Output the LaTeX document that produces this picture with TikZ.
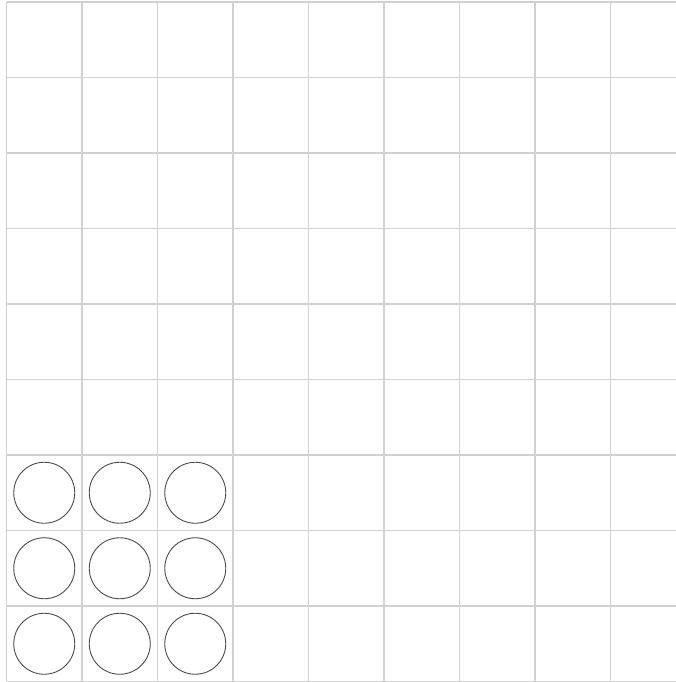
\documentclass[tikz,border=0pt]{standalone}
\begin{document}
\begin{tikzpicture}[x=1pt,y=-1pt,
  gridline/.style={draw=black!18,line width=1.3pt},
  token/.style={circle,draw=black!70,line width=0.9pt,minimum size=61pt,inner sep=0pt}]
\useasboundingbox[fill=white] (0,0) rectangle (676,682);
\foreach \k in {0,...,8} {
  \draw[gridline] ({6.5+75.5*\k},2) -- ({6.5+75.5*\k},681.5);
}
\foreach \k in {0,...,9} {
  \draw[gridline] (6.5,{2+75.5*\k}) -- (676,{2+75.5*\k});
}
\foreach \r in {0,1,2} {
  \foreach \c in {0,1,2} {
    \node[token] (t\r\c) at ({44.25+75.5*\c},{492.75+75.5*\r}) {};
  }
}
\end{tikzpicture}
\end{document}
